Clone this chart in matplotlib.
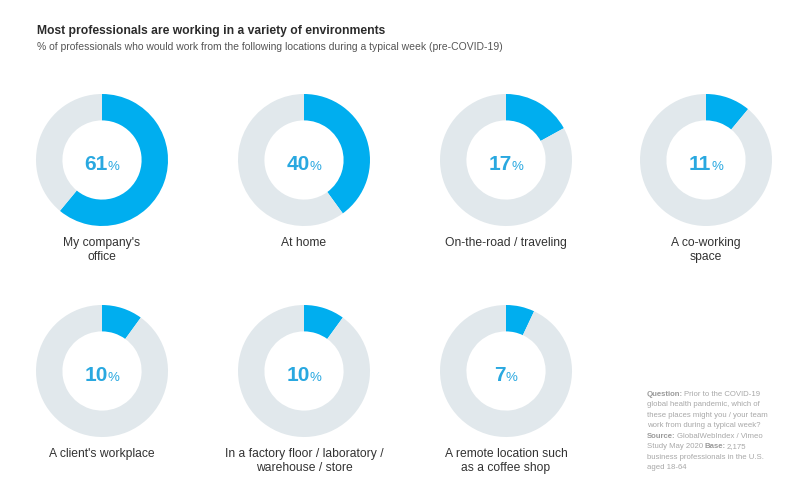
import matplotlib
matplotlib.use("Agg")
import matplotlib.pyplot as plt

plt.rcParams['font.family'] = ['Liberation Sans', 'DejaVu Sans']

# data
locations = ["My company's\noffice", "At home", "On-the-road / traveling", "A co-working\nspace",
             "A client's workplace", "In a factory floor / laboratory /\nwarehouse / store",
             "A remote location such\nas a coffee shop"]
percents = [61, 40, 17, 11, 10, 10, 7]

title = "Most professionals are working in a variety of environments"
subtitle = "% of professionals who would work from the following locations during a typical week (pre-COVID-19)"
note_lines = [
    [("Question:", "bold"), ("Prior to the COVID-19", "normal")],
    [("global health pandemic, which of", "normal")],
    [("these places might you / your team", "normal")],
    [("work from during a typical week?", "normal")],
    [("Source:", "bold"), ("GlobalWebIndex / Vimeo", "normal")],
    [("Study May 2020", "normal"), ("Base:", "bold"), ("2,175", "normal")],
    [("business professionals in the U.S.", "normal")],
    [("aged 18-64", "normal")],
]

BLUE = "#00aeef"
GREY = "#e1e8ec"
W, H = 808, 502

fig = plt.figure(figsize=(W / 100, H / 100), dpi=100)
fig.patch.set_facecolor("white")
renderer = fig.canvas.get_renderer()


def put_segments(x, y, segs, size, color, gap, center=False):
    # draw text pieces side by side (pixel coords, y from top)
    texts = []
    for s, w in segs:
        t = fig.text(0, 0, s, fontsize=size[w] if isinstance(size, dict) else size,
                     fontweight="bold" if w == "bold" else "normal",
                     color=color[w] if isinstance(color, dict) else color,
                     va="baseline", ha="left")
        texts.append(t)
    widths = [t.get_window_extent(renderer).width for t in texts]
    total = sum(widths) + gap * (len(texts) - 1)
    cx = x - total / 2 if center else x
    for t, wd in zip(texts, widths):
        t.set_position((cx / W, 1 - y / H))
        cx += wd + gap
    return texts


fig.text(37 / W, 1 - 31 / H, title, fontsize=8.7, fontweight="bold", color="#2b2b2b", va="center")
fig.text(37 / W, 1 - 47 / H, subtitle, fontsize=7.5, color="#555555", va="center")

centers_x = [102, 304, 506, 706]
centers_y = [161, 372]
R = 66

for i, (lab, p) in enumerate(zip(locations, percents)):
    cx = centers_x[i % 4]
    cy = centers_y[i // 4]
    ax = fig.add_axes([(cx - R) / W, (H - cy - R) / H, 2 * R / W, 2 * R / H])
    ax.pie([p, 100 - p], colors=[BLUE, GREY], startangle=90, counterclock=False,
           radius=1, wedgeprops=dict(width=0.4, edgecolor="none"))
    ax.set_xlim(-1, 1)
    ax.set_ylim(-1, 1)
    ax.axis("off")
    put_segments(cx, cy + 9, [(str(p), "bold"), ("%", "normal")],
                 {"bold": 15, "normal": 9.5}, "#29a8e0", gap=0, center=True)
    fig.text(cx / W, 1 - (cy + 76) / H, lab, fontsize=8.7, color="#333333",
             ha="center", va="top", linespacing=1.2)

for k, segs in enumerate(note_lines):
    put_segments(647, 396 + k * 10.5, segs, 5.6, {"bold": "#9a9a9a", "normal": "#a8a8a8"}, gap=1)

fig.savefig("out.png", dpi=100, facecolor="white")
